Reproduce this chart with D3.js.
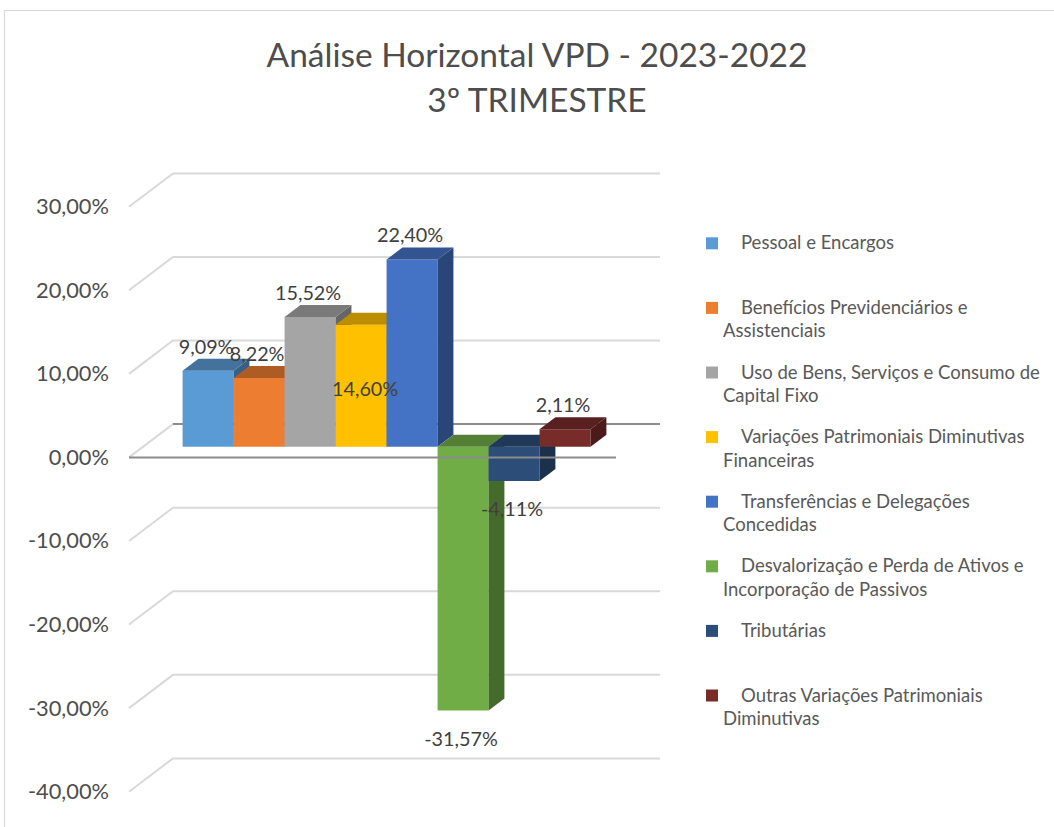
<!DOCTYPE html>
<html>
<head>
<meta charset="utf-8">
<script src="https://cdn.jsdelivr.net/npm/d3@7"></script>
<style>
  body { margin: 0; background: #fff; }
  svg { display: block; }
  text { font-family: Lato, "Open Sans", sans-serif; }
</style>
</head>
<body>
<svg id="chart" width="1054" height="827"></svg>
<script>
// Series names (one column per series, single category)
const series = [
  "Pessoal e Encargos",
  "Benefícios Previdenciários e Assistenciais",
  "Uso de Bens, Serviços e Consumo de Capital Fixo",
  "Variações Patrimoniais Diminutivas Financeiras",
  "Transferências e Delegações Concedidas",
  "Desvalorização e Perda de Ativos e Incorporação de Passivos",
  "Tributárias",
  "Outras Variações Patrimoniais Diminutivas"
];
// Horizontal variation 2023 vs 2022, in percent
const values = [9.09, 8.22, 15.52, 14.60, 22.40, -31.57, -4.11, 2.11];
const colors = ["#5B9BD5", "#ED7D31", "#A5A5A5", "#FFC000", "#4472C4", "#70AD47", "#2C4D77", "#772C2A"];
const yTicks = [-40, -30, -20, -10, 0, 10, 20, 30];
const titleLines = ["Análise Horizontal VPD - 2023-2022", "3º TRIMESTRE"];

const ptBR = d3.formatLocale({ decimal: ",", thousands: ".", grouping: [3], currency: ["R$", ""], minus: "-" });
const fmt2 = ptBR.format(".2f");
const pct = v => fmt2(v) + "%";

const svg = d3.select("#chart");

// chart border
svg.append("rect")
  .attr("x", 4.5).attr("y", 10.5)
  .attr("width", 1100).attr("height", 900)
  .attr("fill", "#fff").attr("stroke", "#d9d9d9").attr("stroke-width", 1.2);

// title
svg.append("g").selectAll("text")
  .data(titleLines).join("text")
  .attr("x", 537)
  .attr("y", (d, i) => 67 + i * 45)
  .attr("text-anchor", "middle")
  .attr("font-size", 33.5)
  .attr("fill", "#4d4d4d")
  .text(d => d);

// --- oblique 3D projection ---
const floorX0 = 129, floorX1 = 616;   // front edge of the floor
const DX = 44, DY = -33.3;            // full depth offset
const y = d3.scaleLinear().domain([-40, 30]).range([791.7, 206.7]);
const band = d3.scaleBand().domain(series).range([floorX0, floorX1])
  .paddingInner(0).paddingOuter(0.775);
const d0 = 0.32, d1 = 0.68;           // depth span of the columns
const P = (x, v, d) => [x + DX * d, y(v) + DY * d];
const line = d3.line();

// walls: side-wall diagonals and back-wall gridlines
const grid = svg.append("g").attr("fill", "none");
grid.selectAll("path.grid")
  .data(yTicks).join("path")
  .attr("class", "grid")
  .attr("d", t => line([P(floorX0, t, 0), P(floorX0, t, 1), P(floorX1, t, 1)]))
  .attr("stroke", "#d9d9d9").attr("stroke-width", 2);
// back zero line
grid.append("path")
  .attr("d", line([P(floorX0, 0, 1), P(floorX1, 0, 1)]))
  .attr("stroke", "#8c8c8c").attr("stroke-width", 2);

// y axis labels
const axis = d3.axisLeft(y).tickValues(yTicks).tickSize(0).tickPadding(0).tickFormat(pct);
const gAxis = svg.append("g").attr("transform", "translate(109,0)").call(axis);
gAxis.select(".domain").remove();
gAxis.selectAll("text")
  .attr("font-size", 21.8)
  .attr("font-family", "Lato, sans-serif")
  .attr("fill", "#4d4d4d");

// columns, drawn left to right so neighbours overlap correctly
const w = band.bandwidth();
const bars = svg.append("g");
series.forEach((s, i) => {
  const v = values[i];
  const x = band(s);
  const hi = Math.max(0, v), lo = Math.min(0, v);
  const c = d3.color(colors[i]);
  const g = bars.append("g");
  // front face
  g.append("path")
    .attr("d", line([P(x, hi, d0), P(x + w, hi, d0), P(x + w, lo, d0), P(x, lo, d0)]) + "Z")
    .attr("fill", c.formatHex());
  // side face
  g.append("path")
    .attr("d", line([P(x + w, hi, d0), P(x + w, lo, d0), P(x + w, lo, d1), P(x + w, hi, d1)]) + "Z")
    .attr("fill", c.darker(1.35).formatHex());
  // top face
  g.append("path")
    .attr("d", line([P(x, hi, d0), P(x + w, hi, d0), P(x + w, hi, d1), P(x, hi, d1)]) + "Z")
    .attr("fill", c.darker(0.85).formatHex());
});

// front edge of the floor at zero
svg.append("path")
  .attr("d", line([P(floorX0, 0, 0), P(floorX1, 0, 0)]))
  .attr("stroke", "#8c8c8c").attr("stroke-width", 2).attr("fill", "none");

// data labels
const labelShift = { "Variações Patrimoniais Diminutivas Financeiras": [6, 88] };
svg.append("g").selectAll("text")
  .data(series).join("text")
  .attr("x", (s, i) => band(s) + w / 2 + DX * d0 - 2 + (labelShift[s] ? labelShift[s][0] : 0))
  .attr("y", (s, i) => {
    const v = values[i];
    const base = y(v) + DY * d0 + (v >= 0 ? -24 : 28);
    return base + (labelShift[s] ? labelShift[s][1] : 0);
  })
  .attr("dy", "0.35em")
  .attr("text-anchor", "middle")
  .attr("font-size", 19.8)
  .attr("fill", "#404040")
  .text((s, i) => pct(values[i]));

// legend
const legend = svg.append("g");
const legTop = 243.3, legStep = 64.6, legRight = 1046;
series.forEach((s, i) => {
  const cy = legTop + i * legStep;
  legend.append("rect")
    .attr("x", 706).attr("y", cy - 6)
    .attr("width", 12).attr("height", 12)
    .attr("fill", colors[i]);
  const t = legend.append("text")
    .attr("font-size", 18.5)
    .attr("fill", "#595959");
  // wrap words: first line is indented past the swatch
  const words = s.split(" ");
  let lineIdx = 0;
  let cur = [];
  let ts = t.append("tspan").attr("x", 741).attr("y", cy + 6);
  words.forEach(word => {
    cur.push(word);
    ts.text(cur.join(" "));
    const startX = lineIdx === 0 ? 741 : 723;
    if (startX + ts.node().getComputedTextLength() > legRight && cur.length > 1) {
      cur.pop();
      ts.text(cur.join(" "));
      lineIdx++;
      cur = [word];
      ts = t.append("tspan").attr("x", 723).attr("y", cy + 6 + lineIdx * 23.4).text(word);
    }
  });
});
</script>
</body>
</html>
